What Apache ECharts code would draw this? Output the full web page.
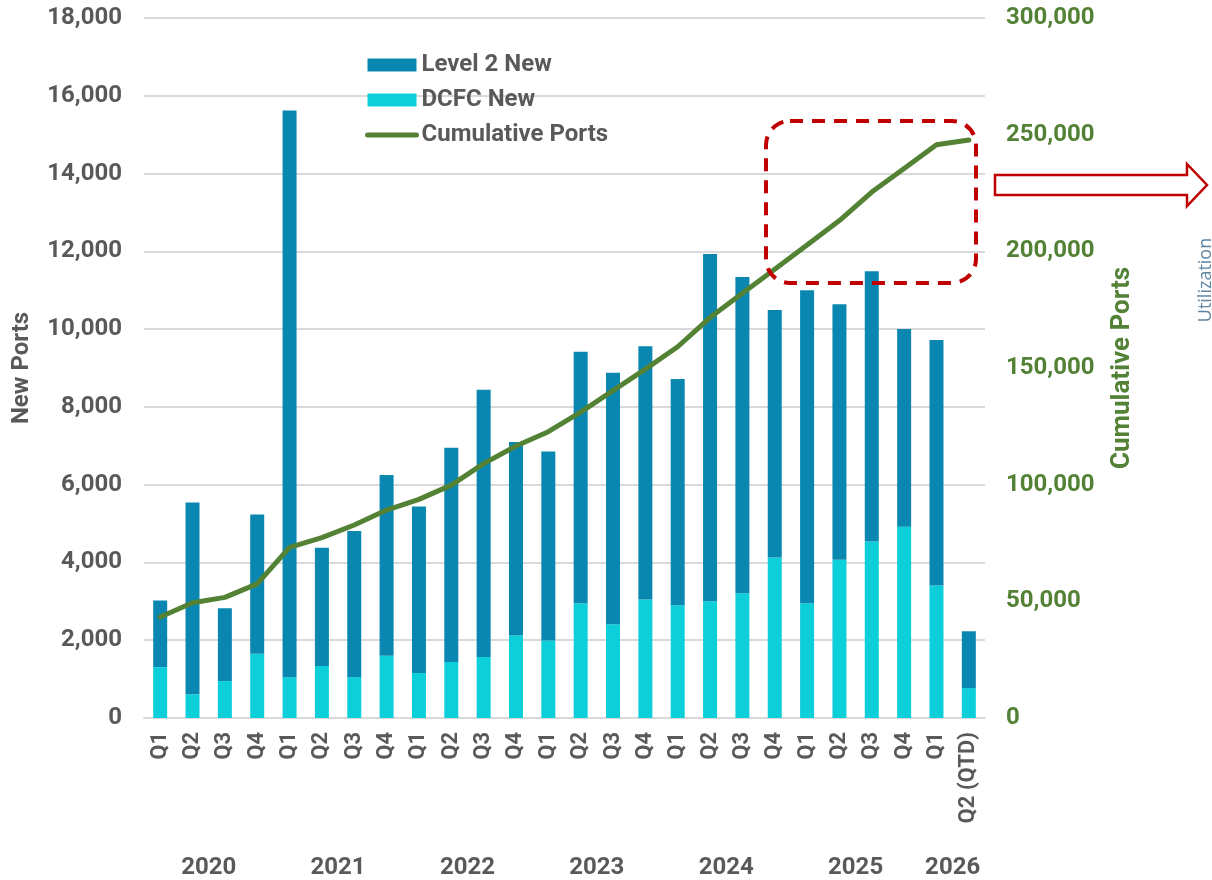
<!DOCTYPE html>
<html>
<head>
<meta charset="utf-8">
<script src="https://cdn.jsdelivr.net/npm/echarts@6/dist/echarts.min.js"></script>
<style>
  html, body { margin: 0; padding: 0; background: #fff; }
  #chart { width: 1212px; height: 880px; }
</style>
</head>
<body>
<div id="chart"></div>
<script>
// Quarterly new charging ports and running total
const quarters = ['Q1','Q2','Q3','Q4','Q1','Q2','Q3','Q4','Q1','Q2','Q3','Q4','Q1','Q2','Q3','Q4',
                  'Q1','Q2','Q3','Q4','Q1','Q2','Q3','Q4','Q1','Q2 (QTD)'];
const years = ['2020','2021','2022','2023','2024','2025','2026'];
const quartersPerYear = [4, 4, 4, 4, 4, 4, 2];

const level2New = [1710, 4930, 1870, 3580, 14570, 3040, 3760, 4650, 4280, 5510, 6870, 4980, 4860,
                   6470, 6470, 6510, 5820, 8930, 8130, 6360, 8050, 6570, 6950, 5080, 6310, 1460];
const dcfcNew   = [1310, 610, 950, 1650, 1050, 1340, 1050, 1600, 1160, 1440, 1570, 2120, 1990,
                   2950, 2410, 3050, 2900, 3000, 3210, 4130, 2950, 4070, 4540, 4920, 3410, 770];
const cumulativePorts = [43300, 49400, 51700, 57500, 73100, 77300, 82700, 89100, 93700, 99800,
                         109000, 116600, 122700, 131100, 140300, 149500, 159100, 171600, 182000,
                         192300, 202700, 213200, 225400, 235500, 245700, 247700];

const leftTicks  = { min: 0, max: 18000, step: 2000 };
const rightTicks = { min: 0, max: 300000, step: 50000 };

// Year group labels sit at the centre of each year's run of quarters
const yearAtPos = {};
let start = 0;
years.forEach((y, i) => {
  yearAtPos[start + quartersPerYear[i] / 2] = y;
  start += quartersPerYear[i];
});

const GRAY = '#595959';
const GREEN = '#538135';
const LINE_GREEN = '#548235';
const FONT = 'Roboto';
const fmt = v => v.toLocaleString('en-US');

const chart = echarts.init(document.getElementById('chart'), null, { renderer: 'canvas' });

chart.setOption({
  animation: false,
  backgroundColor: '#ffffff',
  grid: { left: 144, right: 227, top: 18, bottom: 161, containLabel: false },
  legend: {
    data: [
      { name: 'Level 2 New', icon: 'rect' },
      { name: 'DCFC New', icon: 'rect' },
      {
        name: 'Cumulative Ports',
        itemStyle: { opacity: 0 },
        lineStyle: { width: 5, cap: 'round', color: LINE_GREEN }
      }
    ],
    orient: 'vertical',
    left: 360,
    top: 48,
    itemWidth: 49,
    itemHeight: 13,
    itemGap: 11,
    textStyle: { fontFamily: FONT, fontWeight: 'bold', fontSize: 24, color: GRAY, lineHeight: 24 }
  },
  xAxis: [
    {
      type: 'category',
      data: quarters,
      axisLine: { show: true, lineStyle: { color: '#d9d9d9', width: 2 } },
      axisTick: { show: false },
      axisLabel: {
        interval: 0, rotate: 90, margin: 14,
        fontFamily: FONT, fontWeight: 'bold', fontSize: 22, color: GRAY
      }
    },
    {
      type: 'value',
      min: 0, max: quarters.length, interval: 1,
      position: 'bottom',
      offset: 134,
      axisLine: { show: false },
      axisTick: { show: false },
      splitLine: { show: false },
      axisLabel: {
        margin: 4,
        fontFamily: FONT, fontWeight: 'bold', fontSize: 24, color: GRAY,
        formatter: v => yearAtPos[v] || ''
      }
    }
  ],
  yAxis: [
    {
      type: 'value',
      min: leftTicks.min, max: leftTicks.max, interval: leftTicks.step,
      name: 'New Ports',
      nameLocation: 'middle',
      nameRotate: 90,
      nameGap: 110,
      nameTextStyle: { fontFamily: FONT, fontWeight: 'bold', fontSize: 24, color: GRAY },
      axisLine: { show: false },
      axisTick: { show: false },
      splitLine: { lineStyle: { color: '#d9d9d9', width: 2 } },
      axisLabel: {
        margin: 22,
        fontFamily: FONT, fontWeight: 'bold', fontSize: 24, color: GRAY,
        formatter: fmt
      }
    },
    {
      type: 'value',
      min: rightTicks.min, max: rightTicks.max, interval: rightTicks.step,
      position: 'right',
      name: 'Cumulative Ports',
      nameLocation: 'middle',
      nameRotate: 90,
      nameGap: 124,
      nameTextStyle: { fontFamily: FONT, fontWeight: 'bold', fontSize: 26, color: GREEN },
      axisLine: { show: false },
      axisTick: { show: false },
      splitLine: { show: false },
      axisLabel: {
        margin: 21,
        fontFamily: FONT, fontWeight: 'bold', fontSize: 24, color: GREEN,
        formatter: fmt
      }
    }
  ],
  series: [
    {
      name: 'DCFC New',
      type: 'bar',
      stack: 'ports',
      barWidth: 14,
      itemStyle: { color: '#0dcfd9' },
      data: dcfcNew
    },
    {
      name: 'Level 2 New',
      type: 'bar',
      stack: 'ports',
      barWidth: 14,
      itemStyle: { color: '#0a87b1' },
      data: level2New
    },
    {
      name: 'Cumulative Ports',
      type: 'line',
      yAxisIndex: 1,
      symbol: 'none',
      z: 5,
      lineStyle: { color: LINE_GREEN, width: 5, cap: 'round', join: 'round' },
      itemStyle: { color: LINE_GREEN },
      data: cumulativePorts
    }
  ],
  graphic: [
    {
      type: 'rect',
      z: 10,
      shape: { x: 766, y: 121, width: 210, height: 162, r: 24 },
      style: { fill: 'none', stroke: '#c00000', lineWidth: 4, lineDash: [13, 9] }
    },
    {
      type: 'polygon',
      z: 10,
      shape: {
        points: [[995, 175], [1187, 175], [1187, 164], [1207, 185], [1187, 206], [1187, 195], [995, 195]]
      },
      style: { fill: '#ffffff', stroke: '#c00000', lineWidth: 2.5 }
    },
    {
      type: 'text',
      z: 10,
      x: 1206,
      y: 280,
      rotation: Math.PI / 2,
      style: {
        text: 'Utilization',
        fontFamily: 'Open Sans',
        fontSize: 18,
        fill: '#5f86a3',
        align: 'center',
        verticalAlign: 'middle'
      }
    }
  ]
});
</script>
</body>
</html>
